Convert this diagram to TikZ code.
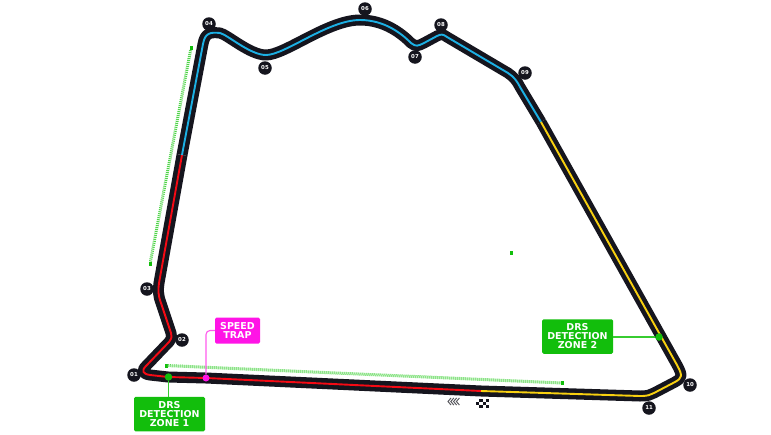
\documentclass[tikz,border=0pt]{standalone}
\usepackage{fontspec}
\setmainfont{DejaVu Sans}
\definecolor{trk}{HTML}{15151E}
\definecolor{sred}{HTML}{F50A14}
\definecolor{sblue}{HTML}{1CB0E4}
\definecolor{syel}{HTML}{F8D010}
\definecolor{drsg}{HTML}{12BE0C}
\definecolor{dotg}{HTML}{4FD548}
\definecolor{mag}{HTML}{FF14E6}
\newcommand{\secA}{(481,391) -- (206,378) -- (168,377) -- (150,375) .. controls (143,374) and (141,371) .. (146,366) -- (169,342) .. controls (172,338) and (172,336) .. (171,333) -- (161,303) .. controls (158,295) and (158,290) .. (159,283) -- (182,155)}
\newcommand{\secB}{(182,155) -- (203,44) .. controls (205,33) and (210,32) .. (220,33) .. controls (228,35) and (250,55) .. (266,55) .. controls (285,55) and (328,20) .. (360,20) .. controls (385,20) and (402,34) .. (411,43) .. controls (416,47) and (418,46) .. (424,43) -- (437,36) .. controls (441,34) and (443,34) .. (447,37) -- (508,73) .. controls (514,77) and (517,81) .. (520,87) -- (541,122)}
\newcommand{\secC}{(541,122) -- (677,365) .. controls (683,376) and (682,378) .. (675,382) -- (654,393) .. controls (650,395) and (648,396) .. (640,396) -- (481,391)}
\tikzset{
  x=1pt,y=-1pt,
  turn/.style={circle,fill=trk,text=white,minimum size=13.5pt,inner sep=0pt,font=\bfseries\fontsize{5.4}{5}\selectfont},
  drsbox/.style={rectangle,rounded corners=1.5pt,fill=drsg,text=white,minimum width=71pt,minimum height=34.5pt,inner sep=0pt,align=center,font=\bfseries\fontsize{9.5}{9}\selectfont},
  trapbox/.style={rectangle,rounded corners=1.5pt,fill=mag,text=white,minimum width=45pt,minimum height=26pt,inner sep=0pt,align=center,font=\bfseries\fontsize{9.5}{9}\selectfont},
  dotgreen/.style={circle,fill=drsg,minimum size=7.5pt,inner sep=0pt},
  dotmag/.style={circle,fill=mag,minimum size=7pt,inner sep=0pt},
  endmark/.style={rectangle,fill=drsg,minimum width=3pt,minimum height=4pt,inner sep=0pt},
  drsline/.style={draw=dotg,line width=3pt,dash pattern=on 1pt off 1pt},
  trackbase/.style={draw=trk,line width=11pt,line join=round},
  sector/.style={line width=1.9pt,line join=round},
}
\begin{document}
\begin{tikzpicture}
\useasboundingbox (0,0) rectangle (771,434);
\fill[white] (0,0) rectangle (771,434);
% DRS zones
\node[endmark] (d1a) at (191,48) {};
\node[endmark] (d1b) at (150,264) {};
\node[endmark] (d2a) at (166,365.5) {};
\node[endmark] (d2b) at (562,383) {};
\node[endmark] (d3) at (511,253) {};
\draw[drsline] (d1a) -- (d1b);
\draw[drsline] (d2a) -- (d2b);
% track
\draw[trackbase] \secA;
\draw[trackbase] \secB;
\draw[trackbase] \secC;
\draw[sector,draw=sred] \secA;
\draw[sector,draw=sblue] \secB;
\draw[sector,draw=syel] \secC;
% turns
\node[turn] at (134,375) {01};
\node[turn] at (182,340) {02};
\node[turn] at (147,289) {03};
\node[turn] at (209,24) {04};
\node[turn] at (265,68) {05};
\node[turn] at (365,9) {06};
\node[turn] at (415,57) {07};
\node[turn] at (441,25) {08};
\node[turn] at (525,73) {09};
\node[turn] at (690,385) {10};
\node[turn] at (649,408) {11};
% callouts
\node[drsbox] (z1) at (169.5,414) {DRS\\DETECTION\\ZONE 1};
\node[drsbox] (z2) at (577.5,336.5) {DRS\\DETECTION\\ZONE 2};
\node[trapbox] (st) at (237.5,330.5) {SPEED\\TRAP};
\node[dotgreen] (p1) at (168.5,377) {};
\node[dotgreen] (p2) at (659,337) {};
\node[dotmag] (p3) at (206,378) {};
\draw[dotg!60!drsg,line width=1.1pt] (p1) -- (p1 |- z1.north);
\draw[dotg!60!drsg,line width=1.1pt] (z2.east |- p2) -- (p2);
\draw[mag!70!white,line width=1.1pt,rounded corners=4pt] (st.west) -- (p3 |- st.west) -- (p3);
% start chevrons and flag
\foreach \dx in {0,2.8,5.6,8.4}
  \draw[trk!70,line width=1pt] (451+\dx,398) -- (448+\dx,401.5) -- (451+\dx,405);
\fill[trk] (476,399) rectangle (489,408);
\foreach \ix in {0,1,2,3} \foreach \iy in {0,1,2} {
  \pgfmathtruncatemacro{\chk}{mod(\ix+\iy,2)}
  \ifnum\chk=0 \fill[white] (476+\ix*3.25,399+\iy*3) rectangle ++(3.25,3); \fi
}
\end{tikzpicture}
\end{document}
